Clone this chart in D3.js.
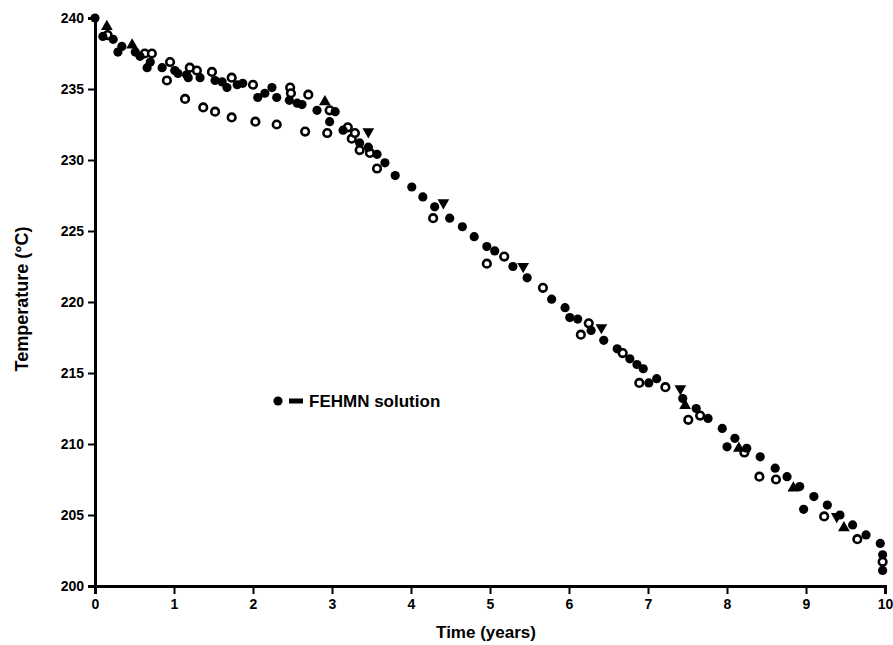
<!DOCTYPE html>
<html>
<head>
<meta charset="utf-8">
<script src="https://cdn.jsdelivr.net/npm/d3@7"></script>
<style>
  body { margin: 0; background: #fff; }
  svg { display: block; }
  text { font-family: "Liberation Sans", Arial, sans-serif; font-weight: 700; fill: #000; }
</style>
</head>
<body>
<div id="chart"></div>
<script>
// FEHMN solution (filled circles): [time (years), temperature (°C)]
const fehmn = [
  [0, 240.0], [0.10, 238.7], [0.23, 238.5], [0.29, 237.6], [0.34, 238.0], [0.51, 237.6],
  [0.57, 237.3], [0.66, 236.5], [0.70, 236.9], [0.85, 236.5], [1.01, 236.3], [1.05, 236.1],
  [1.16, 236.0], [1.18, 235.8], [1.33, 235.8], [1.52, 235.6], [1.61, 235.5], [1.67, 235.1],
  [1.80, 235.3], [1.87, 235.4], [2.06, 234.4], [2.15, 234.7], [2.24, 235.1], [2.30, 234.4],
  [2.46, 234.2], [2.56, 234.0], [2.62, 233.9], [2.81, 233.5], [2.97, 232.7], [3.04, 233.4],
  [3.14, 232.1], [3.35, 231.2], [3.46, 230.9], [3.57, 230.4], [3.67, 229.8], [3.80, 228.9],
  [4.01, 228.1], [4.15, 227.4], [4.30, 226.7], [4.49, 225.9], [4.65, 225.3], [4.80, 224.6],
  [4.96, 223.9], [5.06, 223.6], [5.29, 222.5], [5.47, 221.7], [5.78, 220.2], [5.95, 219.6],
  [6.01, 218.9], [6.11, 218.8], [6.28, 218.0], [6.44, 217.3], [6.61, 216.7], [6.77, 216.0],
  [6.86, 215.6], [6.94, 215.3], [7.01, 214.3], [7.11, 214.6], [7.44, 213.2], [7.61, 212.5],
  [7.76, 211.8], [7.94, 211.1], [8.00, 209.8], [8.10, 210.4], [8.25, 209.7], [8.42, 209.1],
  [8.61, 208.3], [8.76, 207.7], [8.92, 207.0], [8.97, 205.4], [9.10, 206.3], [9.27, 205.7],
  [9.43, 205.0], [9.59, 204.3], [9.76, 203.6], [9.94, 203.0], [9.97, 202.2], [9.97, 201.1]
];

// Open circles
const openCircles = [
  [0.16, 238.8], [0.63, 237.5], [0.72, 237.5], [0.91, 235.6], [0.95, 236.9], [1.20, 236.5],
  [1.29, 236.3], [1.48, 236.2], [1.73, 235.8], [2.00, 235.3], [2.47, 235.1], [2.48, 234.7],
  [2.70, 234.6], [2.97, 233.5], [3.20, 232.3], [3.25, 231.5], [3.29, 231.9], [3.35, 230.7],
  [3.48, 230.5], [3.57, 229.4],
  [1.14, 234.3], [1.37, 233.7], [1.52, 233.4], [1.73, 233.0], [2.03, 232.7], [2.30, 232.5],
  [2.66, 232.0], [2.94, 231.9],
  [4.28, 225.9], [4.96, 222.7], [5.18, 223.2], [5.67, 221.0], [6.15, 217.7], [6.25, 218.5],
  [6.68, 216.4], [6.89, 214.3], [7.22, 214.0], [7.51, 211.7], [7.66, 212.0], [8.22, 209.4],
  [8.41, 207.7], [8.62, 207.5], [9.23, 204.9], [9.65, 203.3], [9.97, 201.7]
];

// Upward triangles
const triUp = [
  [0.15, 239.4], [0.47, 238.1], [2.91, 234.1], [7.47, 212.7], [8.15, 209.7], [8.84, 206.9], [9.48, 204.1]
];

// Downward triangles
const triDown = [
  [3.46, 232.0], [4.41, 227.0], [5.42, 222.5], [6.41, 218.2], [7.41, 213.9], [9.39, 204.9]
];

const xTicks = [0, 1, 2, 3, 4, 5, 6, 7, 8, 9, 10];
const yTicks = [200, 205, 210, 215, 220, 225, 230, 235, 240];

const width = 893, height = 645;
const margin = { top: 18, right: 8, bottom: 59, left: 95 };

const svg = d3.select('#chart').append('svg')
  .attr('width', width)
  .attr('height', height);

const x = d3.scaleLinear().domain([0, 10]).range([margin.left, width - margin.right]);
const y = d3.scaleLinear().domain([200, 240]).range([height - margin.bottom, margin.top]);

// Axes
const xAxis = svg.append('g')
  .attr('transform', `translate(0, ${y(200)})`)
  .call(d3.axisBottom(x).tickValues(xTicks).tickSize(8).tickPadding(5).tickFormat(d3.format('d')));

const yAxis = svg.append('g')
  .attr('transform', `translate(${x(0)}, 0)`)
  .call(d3.axisLeft(y).tickValues(yTicks).tickSize(7).tickPadding(4).tickFormat(d3.format('d')));

[xAxis, yAxis].forEach(a => {
  a.select('.domain').attr('stroke', '#000').attr('stroke-width', 3);
  a.selectAll('.tick line').attr('stroke', '#000').attr('stroke-width', 2);
  a.selectAll('.tick text')
    .attr('font-family', '"Liberation Sans", Arial, sans-serif')
    .attr('font-weight', 700)
    .attr('font-size', 14)
    .attr('fill', '#000');
});
yAxis.selectAll('.tick text').attr('dy', '0.35em');

// Axis titles
svg.append('text')
  .attr('x', (x(0) + x(10)) / 2 - 4)
  .attr('y', 638)
  .attr('text-anchor', 'middle')
  .attr('font-size', 17)
  .text('Time (years)');

svg.append('text')
  .attr('transform', `translate(28, ${y(220) - 3}) rotate(-90)`)
  .attr('text-anchor', 'middle')
  .attr('font-size', 18)
  .text('Temperature (°C)');

// Markers
const plot = svg.append('g');

plot.selectAll('.open')
  .data(openCircles)
  .join('circle')
  .attr('class', 'open')
  .attr('cx', d => x(d[0]))
  .attr('cy', d => y(d[1]))
  .attr('r', 3.8)
  .attr('fill', '#fff')
  .attr('stroke', '#000')
  .attr('stroke-width', 2.6);

const triSym = d3.symbol().type(d3.symbolTriangle).size(60);

plot.selectAll('.tri-up')
  .data(triUp)
  .join('path')
  .attr('class', 'tri-up')
  .attr('d', triSym)
  .attr('transform', d => `translate(${x(d[0])}, ${y(d[1])})`)
  .attr('fill', '#000');

plot.selectAll('.tri-down')
  .data(triDown)
  .join('path')
  .attr('class', 'tri-down')
  .attr('d', triSym)
  .attr('transform', d => `translate(${x(d[0])}, ${y(d[1])}) rotate(180)`)
  .attr('fill', '#000');

plot.selectAll('.fehmn')
  .data(fehmn)
  .join('circle')
  .attr('class', 'fehmn')
  .attr('cx', d => x(d[0]))
  .attr('cy', d => y(d[1]))
  .attr('r', 4.6)
  .attr('fill', '#000');

// Legend
const legend = svg.append('g').attr('transform', 'translate(278, 401)');
legend.append('circle').attr('cx', 0).attr('cy', 0).attr('r', 4.6).attr('fill', '#000');
legend.append('rect').attr('x', 11).attr('y', -2.5).attr('width', 14).attr('height', 5).attr('fill', '#000');
legend.append('text')
  .attr('x', 31)
  .attr('y', 0)
  .attr('dy', '0.36em')
  .attr('font-size', 17)
  .text('FEHMN solution');
</script>
</body>
</html>
